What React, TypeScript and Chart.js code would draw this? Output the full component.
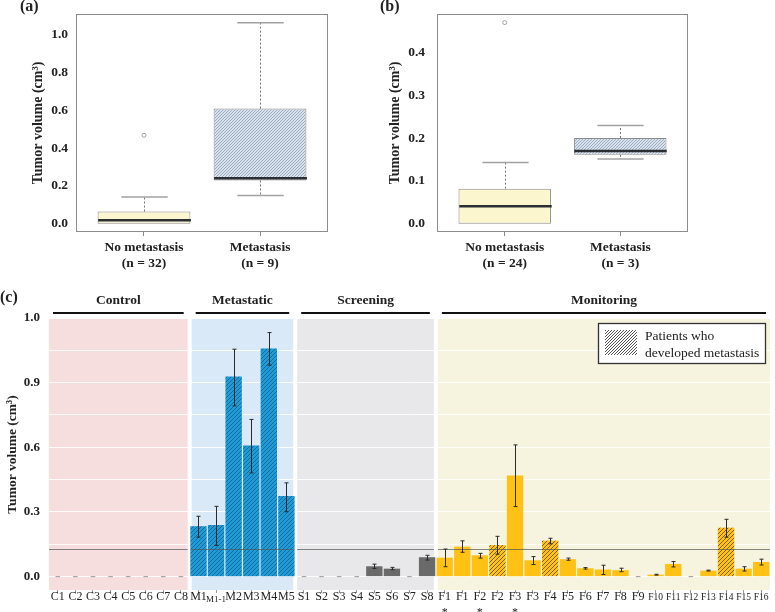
import React, { useEffect, useRef } from 'react';
import { Chart, registerables } from 'chart.js';
Chart.register(...registerables);

const FONT = '"Liberation Serif", "Times New Roman", serif';

// ---------- Panel (a) ----------
const groupsA = ['No metastasis', 'Metastasis'];
const countsA = ['(n = 32)', '(n = 9)'];
const minA = [0.0, 0.15];
const q1A = [0.0, 0.229];
const medianA = [0.019, 0.241];
const q3A = [0.065, 0.608];
const maxA = [0.141, 1.061];
const outliersA = [[0.467], []];
const yTicksA = [0, 0.2, 0.4, 0.6, 0.8, 1.0];

// ---------- Panel (b) ----------
const groupsB = ['No metastasis', 'Metastasis'];
const countsB = ['(n = 24)', '(n = 3)'];
const minB = [0.0, 0.151];
const q1B = [0.0, 0.161];
const medianB = [0.041, 0.17];
const q3B = [0.082, 0.2];
const maxB = [0.143, 0.229];
const outliersB = [[0.469], []];
const yTicksB = [0, 0.1, 0.2, 0.3, 0.4];

// ---------- Panel (c) ----------
const groupNamesC = ['Control', 'Metastatic', 'Screening', 'Monitoring'];
const groupSizesC = [8, 6, 8, 19];
const labelsC = [
  'C1', 'C2', 'C3', 'C4', 'C5', 'C6', 'C7', 'C8',
  'M1', 'M1-1', 'M2', 'M3', 'M4', 'M5',
  'S1', 'S2', 'S3', 'S4', 'S5', 'S6', 'S7', 'S8',
  'F1*', 'F1', 'F2*', 'F2', 'F3*', 'F3', 'F4', 'F5', 'F6', 'F7', 'F8', 'F9',
  'F10', 'F11', 'F12', 'F13', 'F14', 'F15', 'F16',
];
const valuesC = [
  0, 0, 0, 0, 0, 0, 0, 0,
  0.234, 0.239, 0.928, 0.608, 1.058, 0.374,
  0, 0, 0, 0, 0.048, 0.037, 0, 0.09,
  0.088, 0.139, 0.099, 0.147, 0.469, 0.076, 0.167, 0.081, 0.039, 0.033, 0.03, 0,
  0.009, 0.059, 0, 0.028, 0.227, 0.037, 0.068,
];
const errLowC = [
  null, null, null, null, null, null, null, null,
  0.183, 0.145, 0.792, 0.481, 0.981, 0.301,
  null, null, null, null, 0.038, 0.032, null, 0.077,
  0.046, 0.113, 0.086, 0.104, 0.325, 0.056, 0.152, 0.076, 0.035, 0.01, 0.023, null,
  0.007, 0.045, null, 0.026, 0.183, 0.026, 0.054,
];
const errHighC = [
  null, null, null, null, null, null, null, null,
  0.28, 0.326, 1.055, 0.729, 1.132, 0.435,
  null, null, null, null, 0.058, 0.043, null, 0.099,
  0.128, 0.166, 0.108, 0.187, 0.611, 0.093, 0.178, 0.086, 0.042, 0.053, 0.039, null,
  0.011, 0.07, null, 0.03, 0.266, 0.046, 0.081,
];
const developedMetastasisC = [
  false, false, false, false, false, false, false, false,
  true, true, true, true, true, true,
  false, false, false, false, false, false, false, false,
  false, false, false, true, false, false, true, false, false, false, false, false,
  false, false, false, false, true, false, false,
];
const thresholdC = 0.13;
const gridValuesC = [0, 0.15, 0.3, 0.45, 0.6, 0.75, 0.9, 1.05, 1.2];
const tickLabelsC = ['0.0', '', '0.3', '', '0.6', '', '0.9', '', '1.0'];
const legendLinesC = ['Patients who', 'developed metastasis'];

// ---------- styles ----------
const BAND_COLORS = ['#F6DEDE', '#D9E9F7', '#E8E8EA', '#F6F3DF'];
const BAR_COLORS = ['#E8A0A0', '#1F9BD6', '#6A6A6A', '#FFC114'];
const HATCH_LINES = ['rgba(120,40,40,0.6)', 'rgba(10,70,115,0.55)', 'rgba(30,30,30,0.6)', 'rgba(95,72,15,0.8)'];
const SMALL_TICKS = new Set(['F10', 'F11', 'F12', 'F13', 'F14', 'F15', 'F16']);
const SUB_TICKS = new Set(['M1-1']);

function makeHatch(bg: string, line: string, size: number, lw = 1) {
  const c = document.createElement('canvas');
  c.width = size;
  c.height = size;
  const g = c.getContext('2d')!;
  if (bg) {
    g.fillStyle = bg;
    g.fillRect(0, 0, size, size);
  }
  g.strokeStyle = line;
  g.lineWidth = lw;
  g.beginPath();
  for (let k = -1; k <= 1; k++) {
    g.moveTo(k * size, size);
    g.lineTo(k * size + size, 0);
  }
  g.stroke();
  return g.createPattern(c, 'repeat')!;
}

function boxConfig(o: any) {
  const pos = o.groups.map((_: any, i: number) => i + 1);
  const fills = [o.plainFill, makeHatch('#D9E2EC', '#94A7BC', 3, 0.9)];
  const boxPlugin = {
    id: 'boxExtras',
    afterDatasetsDraw(chart: any) {
      const ctx = chart.ctx;
      const xs = chart.scales.x;
      const ys = chart.scales.y;
      const meta = chart.getDatasetMeta(0);
      const line = (x1: number, y1: number, x2: number, y2: number) => {
        ctx.beginPath();
        ctx.moveTo(x1, y1);
        ctx.lineTo(x2, y2);
        ctx.stroke();
      };
      pos.forEach((p: number, i: number) => {
        const x = Math.round(xs.getPixelForValue(p)) + 0.5;
        const half = meta.data[i].width / 2;
        ctx.save();
        ctx.strokeStyle = '#777';
        ctx.lineWidth = 1;
        ctx.setLineDash([2, 2]);
        line(x, ys.getPixelForValue(o.q3[i]), x, ys.getPixelForValue(o.max[i]));
        if (o.min[i] < o.q1[i]) line(x, ys.getPixelForValue(o.q1[i]), x, ys.getPixelForValue(o.min[i]));
        ctx.setLineDash([]);
        ctx.strokeStyle = '#a2a2a2';
        ctx.lineWidth = 1.5;
        line(x - half / 2, ys.getPixelForValue(o.max[i]), x + half / 2, ys.getPixelForValue(o.max[i]));
        if (o.min[i] < o.q1[i]) line(x - half / 2, ys.getPixelForValue(o.min[i]), x + half / 2, ys.getPixelForValue(o.min[i]));
        ctx.strokeStyle = '#2b2f33';
        ctx.lineWidth = 2.5;
        line(x - half, ys.getPixelForValue(o.median[i]), x + half, ys.getPixelForValue(o.median[i]));
        ctx.restore();
      });
      const ca = chart.chartArea;
      ctx.save();
      ctx.strokeStyle = '#8c8c8c';
      ctx.lineWidth = 1;
      ctx.strokeRect(Math.round(ca.left) + 0.5, Math.round(ca.top) + 0.5, Math.round(ca.width) - 1, Math.round(ca.height) - 1);
      ctx.restore();
    },
  };
  const tickFont = { family: FONT, size: 13.5, weight: 'bold' as const };
  return {
    type: 'bar',
    data: {
      datasets: [
        {
          type: 'bar',
          data: pos.map((x: number, i: number) => ({ x, y: [o.q1[i], o.q3[i]] })),
          backgroundColor: fills,
          borderColor: '#8c8c8c',
          borderWidth: 1,
          borderSkipped: false,
          categoryPercentage: 0.8,
          barPercentage: 1,
        },
        {
          type: 'scatter',
          data: o.outliers.flatMap((arr: number[], i: number) => arr.map((y) => ({ x: pos[i], y }))),
          pointStyle: 'circle',
          pointRadius: 2,
          pointBorderColor: '#8a8a8a',
          pointBackgroundColor: 'rgba(0,0,0,0)',
          pointBorderWidth: 0.8,
        },
      ],
    },
    options: {
      responsive: false,
      animation: false,
      devicePixelRatio: 1,
      layout: { padding: { left: o.padLeft, top: 14, right: o.padRight, bottom: 0 } },
      plugins: { legend: { display: false }, tooltip: { enabled: false } },
      scales: {
        x: {
          type: 'linear',
          min: 0.414,
          max: 2.586,
          offset: false,
          afterBuildTicks: (s: any) => {
            s.ticks = pos.map((v: number) => ({ value: v }));
          },
          afterFit: (s: any) => {
            s.height = 68;
            s.paddingLeft = 0;
            s.paddingRight = 0;
            s.paddingTop = 0;
            s.paddingBottom = 0;
          },
          ticks: {
            autoSkip: false,
            maxRotation: 0,
            padding: 3,
            color: '#222',
            font: { ...tickFont, lineHeight: 1.2 },
            callback: (_v: any, i: number) => [o.groups[i], o.counts[i]],
          },
          grid: { display: true, offset: false, drawOnChartArea: false, drawTicks: true, tickLength: 4, color: '#888' },
          border: { display: false },
        },
        y: {
          min: o.yMin,
          max: o.yMax,
          afterBuildTicks: (s: any) => {
            s.ticks = o.yTicks.map((v: number) => ({ value: v }));
          },
          afterFit: (s: any) => {
            s.width = o.yWidth;
            s.paddingTop = 0;
            s.paddingBottom = 0;
            s.paddingLeft = 0;
            s.paddingRight = 0;
          },
          ticks: {
            padding: o.tickPad,
            color: '#222',
            font: tickFont,
            callback: (v: any) => Number(v).toFixed(1),
          },
          grid: { display: false, drawTicks: false },
          border: { display: false },
          title: {
            display: true,
            text: 'Tumor volume (cm³)',
            color: '#222',
            font: { family: FONT, size: 14, weight: 'bold' },
            padding: { top: 4, bottom: 4 },
          },
        },
      },
    },
    plugins: [boxPlugin],
  };
}

function barConfig() {
  const groupOf: number[] = [];
  groupSizesC.forEach((n, g) => {
    for (let k = 0; k < n; k++) groupOf.push(g);
  });
  const hatches = BAR_COLORS.map((c, g) => makeHatch(c, HATCH_LINES[g], 4, 1));
  const colors = valuesC.map((_, i) => (developedMetastasisC[i] ? hatches[groupOf[i]] : BAR_COLORS[groupOf[i]]));
  const legendHatch = makeHatch('#ffffff', '#555', 3, 1);

  const bands = (chart: any) => {
    const xs = chart.scales.x;
    const ca = chart.chartArea;
    const pitch = xs.getPixelForValue(1) - xs.getPixelForValue(0);
    const out: { l: number; r: number }[] = [];
    let start = 0;
    groupSizesC.forEach((n, g) => {
      const l = g === 0 ? ca.left : xs.getPixelForValue(start) - pitch / 2 + 2;
      const r = g === groupSizesC.length - 1 ? ca.right : xs.getPixelForValue(start + n - 1) + pitch / 2 - 2;
      out.push({ l, r });
      start += n;
    });
    return out;
  };

  const plugin = {
    id: 'facets',
    beforeDraw(chart: any) {
      const ctx = chart.ctx;
      const ca = chart.chartArea;
      ctx.save();
      bands(chart).forEach((b, g) => {
        ctx.fillStyle = BAND_COLORS[g];
        ctx.fillRect(b.l, ca.top, b.r - b.l, ca.bottom - ca.top);
        ctx.strokeStyle = '#111';
        ctx.lineWidth = 2;
        ctx.beginPath();
        ctx.moveTo(b.l + 4, ca.top - 6);
        ctx.lineTo(b.r - 4, ca.top - 6);
        ctx.stroke();
        ctx.fillStyle = '#222';
        ctx.font = `bold 13.5px ${FONT}`;
        ctx.textAlign = 'center';
        ctx.textBaseline = 'middle';
        ctx.fillText(groupNamesC[g], (b.l + b.r) / 2, ca.top - 18);
      });
      ctx.restore();
    },
    afterDatasetsDraw(chart: any) {
      const ctx = chart.ctx;
      const ca = chart.chartArea;
      const xs = chart.scales.x;
      const ys = chart.scales.y;
      ctx.save();
      const yt = Math.round(ys.getPixelForValue(thresholdC)) + 0.5;
      ctx.strokeStyle = 'rgba(85,85,85,0.7)';
      ctx.lineWidth = 1;
      bands(chart).forEach((b) => {
        ctx.beginPath();
        ctx.moveTo(b.l, yt);
        ctx.lineTo(b.r, yt);
        ctx.stroke();
      });
      ctx.strokeStyle = '#2a2a2a';
      ctx.lineWidth = 1;
      valuesC.forEach((_, i) => {
        const lo = errLowC[i];
        const hi = errHighC[i];
        if (lo == null || hi == null) return;
        const x = Math.round(xs.getPixelForValue(i)) + 0.5;
        const y1 = ys.getPixelForValue(lo);
        const y2 = ys.getPixelForValue(hi);
        ctx.beginPath();
        ctx.moveTo(x, y1);
        ctx.lineTo(x, y2);
        ctx.moveTo(x - 2, y1);
        ctx.lineTo(x + 2, y1);
        ctx.moveTo(x - 2, y2);
        ctx.lineTo(x + 2, y2);
        ctx.stroke();
      });
      const bw = 168;
      const bh = 41;
      const bx = ca.right - 4 - bw;
      const by = ca.top + 4;
      ctx.fillStyle = '#fff';
      ctx.fillRect(bx, by, bw, bh);
      ctx.strokeStyle = '#333';
      ctx.lineWidth = 1.3;
      ctx.strokeRect(bx + 0.5, by + 0.5, bw - 1, bh - 1);
      ctx.fillStyle = legendHatch;
      ctx.fillRect(bx + 7, by + 7, 32, 25);
      ctx.fillStyle = '#222';
      ctx.font = `13.5px ${FONT}`;
      ctx.textAlign = 'left';
      ctx.textBaseline = 'middle';
      ctx.fillText(legendLinesC[0], bx + 47, by + 13);
      ctx.fillText(legendLinesC[1], bx + 47, by + 30);
      ctx.restore();
    },
  };

  return {
    type: 'bar',
    data: {
      labels: labelsC,
      datasets: [
        {
          data: valuesC,
          backgroundColor: colors,
          borderWidth: 0,
          categoryPercentage: 0.93,
          barPercentage: 1,
        },
        {
          type: 'line',
          data: valuesC.map((v) => (v === 0 ? 0 : null)),
          showLine: false,
          pointStyle: 'line',
          pointRadius: 2.3,
          pointBorderColor: '#9a9a9a',
          pointBorderWidth: 1,
          borderColor: '#9a9a9a',
        },
      ],
    },
    options: {
      responsive: false,
      animation: false,
      devicePixelRatio: 1,
      layout: { padding: { left: 0, top: 31, right: 4, bottom: 0 } },
      plugins: { legend: { display: false }, tooltip: { enabled: false } },
      scales: {
        x: {
          type: 'category',
          offset: true,
          afterFit: (s: any) => {
            s.height = 22;
            s.paddingLeft = 0;
            s.paddingRight = 0;
          },
          ticks: {
            autoSkip: false,
            maxRotation: 0,
            minRotation: 0,
            padding: -4,
            color: '#222',
            font: (ctx: any) => {
              const l = labelsC[ctx.index];
              if (SUB_TICKS.has(l)) return { family: FONT, size: 9, lineHeight: 2.3 };
              if (SMALL_TICKS.has(l)) return { family: FONT, size: 9.5, lineHeight: 1.75 };
              return { family: FONT, size: 12, lineHeight: 1.33 };
            },
            callback: (_v: any, i: number) => {
              const l = labelsC[i];
              return l.endsWith('*') ? [l.slice(0, -1), '*'] : l;
            },
          },
          grid: { display: true, offset: false, drawOnChartArea: false, drawTicks: true, tickLength: 3, color: '#999' },
          border: { display: false },
        },
        y: {
          min: -0.062,
          max: 1.195,
          afterBuildTicks: (s: any) => {
            s.ticks = gridValuesC.map((v) => ({ value: v }));
          },
          afterFit: (s: any) => {
            s.width = 49;
            s.paddingTop = 0;
            s.paddingBottom = 0;
          },
          ticks: {
            padding: 9,
            color: '#222',
            font: { family: FONT, size: 13, weight: 'bold' },
            callback: (_v: any, i: number) => tickLabelsC[i],
          },
          grid: { display: true, drawTicks: false, color: 'rgba(255,255,255,0.85)', lineWidth: 1 },
          border: { display: false },
          title: {
            display: true,
            text: 'Tumor volume (cm³)',
            color: '#222',
            font: { family: FONT, size: 13.5, weight: 'bold' },
            padding: { top: 4, bottom: 4 },
          },
        },
      },
    },
    plugins: [plugin],
  };
}

function ChartCanvas({ make, left, top, w, h }: any) {
  const ref = useRef<HTMLCanvasElement>(null);
  useEffect(() => {
    const chart = new Chart(ref.current as HTMLCanvasElement, make());
    return () => chart.destroy();
  }, []);
  return (
    <canvas
      ref={ref}
      width={w}
      height={h}
      style={{ position: 'absolute', left, top, width: w, height: h }}
    />
  );
}

const labelStyle: React.CSSProperties = {
  position: 'absolute',
  fontFamily: FONT,
  fontWeight: 'bold',
  fontSize: 16,
  lineHeight: '16px',
  color: '#222',
};

export default function App() {
  return (
    <div style={{ position: 'absolute', left: 0, top: 0, width: 775, height: 612, background: '#fff', overflow: 'hidden' }}>
      <ChartCanvas
        left={0}
        top={0}
        w={380}
        h={300}
        make={() =>
          boxConfig({
            groups: groupsA, counts: countsA, min: minA, q1: q1A, median: medianA, q3: q3A, max: maxA,
            outliers: outliersA, yTicks: yTicksA, yMin: -0.043, yMax: 1.107,
            padLeft: 26, padRight: 52, yWidth: 50, tickPad: 8, plainFill: '#FCF6CF',
          })
        }
      />
      <ChartCanvas
        left={380}
        top={0}
        w={395}
        h={300}
        make={() =>
          boxConfig({
            groups: groupsB, counts: countsB, min: minB, q1: q1B, median: medianB, q3: q3B, max: maxB,
            outliers: outliersB, yTicks: yTicksB, yMin: -0.019, yMax: 0.489,
            padLeft: 3, padRight: 87, yWidth: 54, tickPad: 12, plainFill: '#FCF6CF',
          })
        }
      />
      <ChartCanvas left={0} top={288} w={775} h={324} make={barConfig} />
      <div style={{ ...labelStyle, left: 20, top: -2 }}>(a)</div>
      <div style={{ ...labelStyle, left: 380, top: -2 }}>(b)</div>
      <div style={{ ...labelStyle, left: 0, top: 289 }}>(c)</div>
    </div>
  );
}
